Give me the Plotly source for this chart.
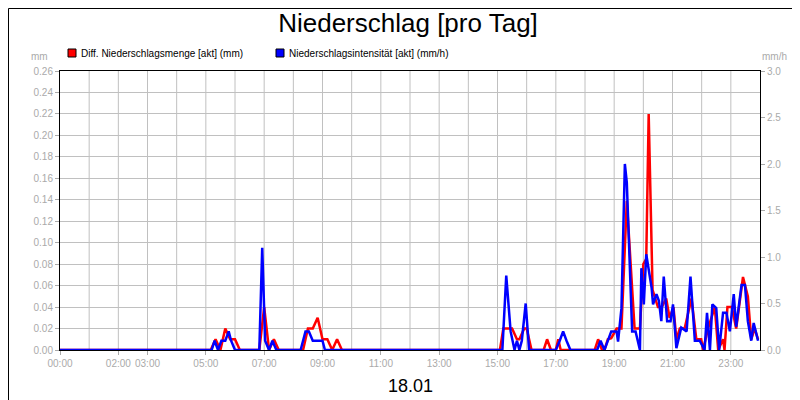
import plotly.graph_objects as go

red_t = ["00:00","05:10","05:20","05:30","05:40","05:50","06:00","06:10","06:50","07:00","07:10","07:20","07:30",
         "08:20","08:30","08:40","08:50","09:00","09:10","09:20","09:30","09:40",
         "15:05","15:12","15:30","15:40","15:45","15:55","16:00","16:10","16:35","16:42","16:50","17:00","17:05","17:10","17:20",
         "18:20","18:27","18:35","18:40","18:47",
         "18:54","19:05","19:15","19:26","19:42","19:53","20:00","20:06","20:11","20:19","20:30","20:38","20:47","20:54","21:02",
         "21:08","21:15","21:25","21:39","21:49","21:59","22:03","22:13","22:27","22:34","22:44","22:47","22:53","23:02","23:11",
         "23:25","23:35","23:42","23:49","23:56"]
red_v = [0,0,0.01,0,0.02,0.01,0.01,0,0,0.04,0,0.01,0,
         0,0.02,0.02,0.03,0.01,0.01,0,0.01,0,
         0,0.02,0.02,0.01,0.01,0.02,0.02,0,0,0.01,0,0,0.01,0,0,
         0,0.01,0,0,0.01,
         0.011,0.02,0.02,0.139,0.02,0.02,0.08,0.085,0.22,0.056,0.04,0.04,0.048,0.03,0.04,
         0.01,0.02,0.02,0.048,0.01,0.01,0,0.02,0.04,0,0.01,0,0.04,0.04,0.02,
         0.068,0.05,0.01,0.02,0.01]

blue_t = ["00:00","05:12","05:18","05:25","05:32","05:40","05:47","05:52","06:00","06:50","06:56","07:02","07:10","07:17","07:25",
          "08:15","08:25","08:32","08:40","08:50","09:00","09:05","09:10",
          "15:10","15:18","15:27","15:35","15:40","15:45","15:50","15:58","16:05","16:12",
          "17:00","17:08","17:15","17:22","17:30",
          "18:25","18:32","18:40",
          "18:47","18:54","19:05","19:08","19:15","19:22","19:26","19:37","19:44","19:53","19:56","20:01","20:06",
          "20:17","20:20","20:27","20:32","20:37","20:42","20:49","20:56","21:01","21:08","21:18","21:29","21:37","21:46","21:56",
          "22:06","22:11","22:17","22:22","22:30","22:36","22:44","22:51","22:58","23:06","23:11","23:22","23:29","23:35",
          "23:42","23:47","23:56"]
blue_v = [0,0,0.1,0,0.1,0.1,0.2,0.1,0,0,1.1,0.1,0,0.1,0,
          0,0.2,0.2,0.1,0.1,0.1,0,0,
          0,0.8,0.2,0,0.1,0,0.1,0.5,0,0,
          0,0.1,0.2,0.1,0,
          0,0.1,0,
          0.09,0.2,0.2,0.09,0.45,2.0,1.8,0.2,0.2,0,0.88,0.49,1.03,
          0.67,0.49,0.6,0.53,0.31,0.79,0.31,0.31,0.49,0.02,0.24,0.2,0.79,0.1,0.1,
          0,0.4,0,0.49,0.45,0,0.4,0.4,0.2,0.6,0.25,0.7,0.7,0.31,
          0.1,0.29,0.1]

tick_vals = [0,2,3,5,7,9,11,13,15,17,19,21,23]
tick_text = ["00:00","02:00","03:00","05:00","07:00","09:00","11:00","13:00","15:00","17:00","19:00","21:00","23:00"]

def hrs(ts):
    return [int(t[:2]) + int(t[3:]) / 60 for t in ts]

fig = go.Figure()
fig.add_trace(go.Scatter(x=hrs(blue_t), y=blue_v, yaxis="y2", mode="lines",
                         line=dict(color="#0000ff", width=2.5), name="Niederschlagsintensität [akt] (mm/h)"))
fig.add_trace(go.Scatter(x=hrs(red_t), y=red_v, mode="lines",
                         line=dict(color="#ff0000", width=2.5), name="Diff. Niederschlagsmenge [akt] (mm)"))

gray = "#aaaaaa"
fig.update_layout(
    width=800, height=400, paper_bgcolor="white", plot_bgcolor="white",
    margin=dict(l=52, r=48, t=63, b=58, autoexpand=False), showlegend=False,
    font=dict(family="Liberation Sans, Arial", size=10, color=gray),
    title=dict(text="Niederschlag [pro Tag]", x=0.5, y=0.985, yanchor="top",
               font=dict(size=26, color="black")),
    xaxis=dict(range=[0, 24], tickvals=tick_vals, ticktext=tick_text, showgrid=False, automargin=False,
               showline=True, linecolor="black", mirror=True, ticks="outside", ticklen=4,
               tickcolor=gray, zeroline=False),
    yaxis=dict(range=[0, 0.26], dtick=0.02, tickformat=".2f", showgrid=True, gridcolor="#c0c0c0", automargin=False,
               showline=True, linecolor="black", ticks="outside", ticklen=4, tickcolor=gray, zeroline=False),
    yaxis2=dict(range=[0, 3.0], dtick=0.5, tickformat=".1f", overlaying="y", side="right", automargin=False,
                showgrid=False, ticks="outside", ticklen=4, tickcolor=gray, zeroline=False,
                showline=True, linecolor="black"),
)
for h in range(1, 24):
    fig.add_shape(type="line", xref="x", yref="paper", x0=h, x1=h, y0=0, y1=1,
                  line=dict(color="#c0c0c0", width=1), layer="below")
fig.add_shape(type="rect", xref="paper", yref="paper", x0=-51.5/700, x1=1+47.5/700, y0=-57.5/279, y1=1+62.5/279,
              line=dict(color="black", width=1))
fig.add_annotation(text="mm", xref="paper", yref="paper", x=-0.015, y=1+22/279, xanchor="right",
                   showarrow=False, font=dict(size=10, color=gray))
fig.add_annotation(text="mm/h", xref="paper", yref="paper", x=1.0, y=1+22/279, xanchor="left",
                   showarrow=False, font=dict(size=10, color=gray))
fig.add_annotation(text="18.01", xref="paper", yref="paper", x=0.5, y=-36/279, yanchor="middle",
                   showarrow=False, font=dict(size=18, color="black"))
for xp, col, txt in [(60, "#ff0000", "Diff. Niederschlagsmenge [akt] (mm)"),
                     (268, "#0000ff", "Niederschlagsintensität [akt] (mm/h)")]:
    fig.add_shape(type="rect", xref="paper", yref="paper", x0=(xp-52)/700, x1=(xp-44)/700,
                  y0=1+(63-49)/279, y1=1+(63-41)/279, fillcolor=col, line=dict(color="black", width=1))
    fig.add_annotation(text=txt, xref="paper", yref="paper", x=(xp-41)/700, y=1+(63-45)/279,
                       xanchor="left", yanchor="middle", showarrow=False, font=dict(size=10, color="black"))
fig.write_html("out.html")
